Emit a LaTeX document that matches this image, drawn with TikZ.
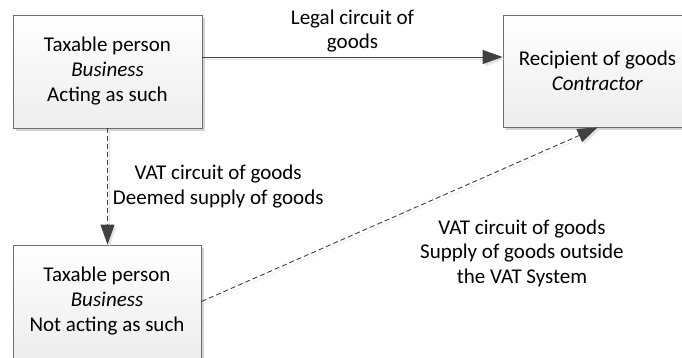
\documentclass[tikz,border=0pt]{standalone}
\usepackage{fontspec}
\setmainfont{Carlito}
\usetikzlibrary{arrows.meta,shadows}
\definecolor{boxline}{HTML}{6E6E6E}
\definecolor{arrline}{HTML}{404040}
\definecolor{shadowgray}{HTML}{D4D4D4}
\definecolor{lineshadow}{HTML}{E2E2E2}
\definecolor{boxbottom}{HTML}{EDEDED}
\tikzset{
  box/.style={draw=boxline, line width=0.9pt, rectangle, align=center,
    top color=white, bottom color=boxbottom,
    drop shadow={shadow xshift=3pt, shadow yshift=-3pt, fill=shadowgray, opacity=1},
    font=\fontsize{21}{25}\selectfont, inner sep=0pt},
  lbl/.style={align=center, font=\fontsize{21}{24.5}\selectfont, text=black},
  conn/.style={draw=arrline, line width=0.9pt,
    -{Triangle[length=20pt,width=14pt]},
    preaction={draw=lineshadow, transform canvas={xshift=2pt,yshift=-2.5pt}}},
  dashconn/.style={conn, dash pattern=on 5pt off 3pt}
}
\begin{document}
\begin{tikzpicture}[x=1pt,y=-1pt]
\useasboundingbox (0,0) rectangle (682,358);
\clip (0,0) rectangle (682,358);
\node[box, minimum width=189pt, minimum height=113pt] (tl) at (107.5,71.5)
  {Taxable person\\\textit{Business}\\Acting as such};
\node[box, minimum width=189pt, minimum height=112pt] (rb) at (597.5,71)
  {Recipient of goods\\\textit{Contractor}};
\node[box, minimum width=188pt, minimum height=113pt] (bl) at (107,301.5)
  {Taxable person\\\textit{Business}\\Not acting as such};
\draw[conn] ([yshift=14.5pt]tl.east) -- node[lbl, above, inner sep=4pt] (l1) {Legal circuit of\\goods} ([yshift=14pt]rb.west);
\draw[dashconn] (tl.south) -- node[lbl, right, inner sep=5pt] (l2) {VAT circuit of goods\\Deemed supply of goods} (tl.south |- bl.north);
\draw[dashconn] (bl.east) -- (rb.south);
\node[lbl] (l3) at (522,253) {VAT circuit of goods\\Supply of goods outside\\the VAT System};
\end{tikzpicture}
\end{document}
